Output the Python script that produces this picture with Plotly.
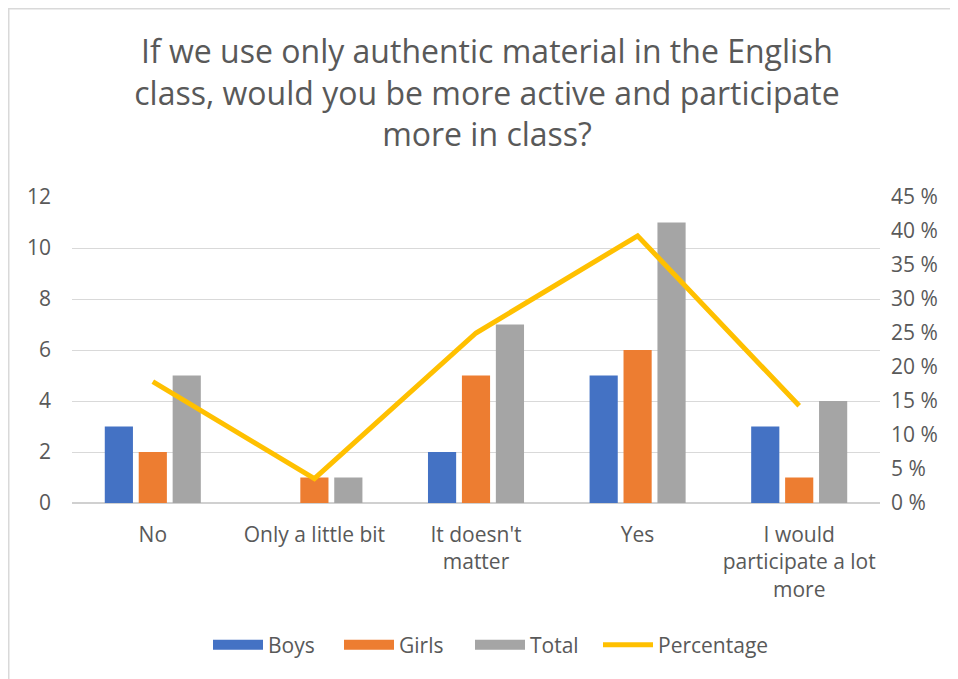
import plotly.graph_objects as go

categories = ["No", "Only a little bit", "It doesn't<br>matter", "Yes", "I would<br>participate a lot<br>more"]
boys = [3, 0, 2, 5, 3]
girls = [2, 1, 5, 6, 1]
total = [5, 1, 7, 11, 4]
percentage = [0.1786, 0.0357, 0.25, 0.3929, 0.1429]
left_ticks = [0, 2, 4, 6, 8, 10, 12]
right_ticks = [0, 0.05, 0.10, 0.15, 0.20, 0.25, 0.30, 0.35, 0.40, 0.45]
right_labels = ["0 %", "5 %", "10 %", "15 %", "20 %", "25 %", "30 %", "35 %", "40 %", "45 %"]
title_text = "If we use only authentic material in the English<br>class, would you be more active and participate<br>more in class?"

FONT = "Open Sans"
GRAY = "#595959"
COLORS = {"Boys": "#4472C4", "Girls": "#ED7D31", "Total": "#A5A5A5"}

fig = go.Figure()
for name, vals in [("Boys", boys), ("Girls", girls), ("Total", total)]:
    fig.add_trace(go.Bar(x=categories, y=vals, name=name, showlegend=False,
                         marker=dict(color=COLORS[name], line=dict(width=0))))
fig.add_trace(go.Scatter(x=categories, y=percentage, name="Percentage", yaxis="y2", showlegend=False,
                         mode="lines", line=dict(color="#FFC000", width=5)))
# legend entries (wide rectangles like the original)
for name in ["Boys", "Girls", "Total"]:
    fig.add_trace(go.Scatter(x=[None], y=[None], name=name, mode="lines", legend="legend",
                             line=dict(color=COLORS[name], width=15)))
fig.add_trace(go.Scatter(x=[None], y=[None], name="Percentage", mode="lines", legend="legend2",
                         line=dict(color="#FFC000", width=5), yaxis="y2"))

# page has 8px body margin; figure is drawn at offset (8, 8)
OFF = 8
W, H = 958 - OFF, 679 - OFF
ml, mr, mt, mb = 72 - OFF, 958 - 880, 197 - OFF, 679 - 503
pw, ph = W - ml - mr, H - mt - mb

def px(x):
    return (x - OFF - ml) / pw

def py(y):
    return (H - mb - (y - OFF)) / ph

legend_common = dict(orientation="h", yanchor="middle", y=py(645), xanchor="left",
                     font=dict(size=21, color=GRAY), traceorder="normal", itemwidth=50,
                     bgcolor="rgba(0,0,0,0)")

fig.update_layout(
    width=W, height=H,
    margin=dict(l=ml, r=mr, t=mt, b=mb, autoexpand=False),
    paper_bgcolor="white", plot_bgcolor="white",
    barmode="group", bargap=0.37, bargroupgap=0.17,
    font=dict(family=FONT, color=GRAY, size=21),
    title=dict(text=title_text, x=(487 - OFF) / W, xanchor="center", y=1 - (63 - OFF) / H, yanchor="top",
               font=dict(family=FONT, size=32, color=GRAY)),
    xaxis=dict(showgrid=False, showline=False, ticks="", tickfont=dict(size=21, color=GRAY),
               ticklabelstandoff=17),
    yaxis=dict(range=[0, 12], tickvals=left_ticks, showgrid=True, gridcolor="#d9d9d9", gridwidth=1,
               zeroline=True, zerolinecolor="#d0d0d0", zerolinewidth=1.5, showline=False,
               tickfont=dict(size=21, color=GRAY), ticklabelstandoff=20),
    yaxis2=dict(range=[0, 0.45], tickvals=right_ticks, ticktext=right_labels, overlaying="y", side="right",
                showgrid=False, zeroline=False, showline=False, tickfont=dict(size=21, color=GRAY),
                ticklabelstandoff=10),
    legend=dict(legend_common, x=px(208), entrywidth=66, entrywidthmode="pixels"),
    legend2=dict(legend_common, x=px(598)),
    showlegend=True,
    shapes=[
        dict(type="line", xref="paper", yref="paper", x0=px(OFF), x1=px(958), y0=py(OFF), y1=py(OFF),
             line=dict(color="#d9d9d9", width=3), layer="below"),
        dict(type="line", xref="paper", yref="paper", x0=px(OFF), x1=px(OFF), y0=py(OFF), y1=py(679),
             line=dict(color="#d9d9d9", width=3), layer="below"),
    ],
)

fig.write_html("out.html")
